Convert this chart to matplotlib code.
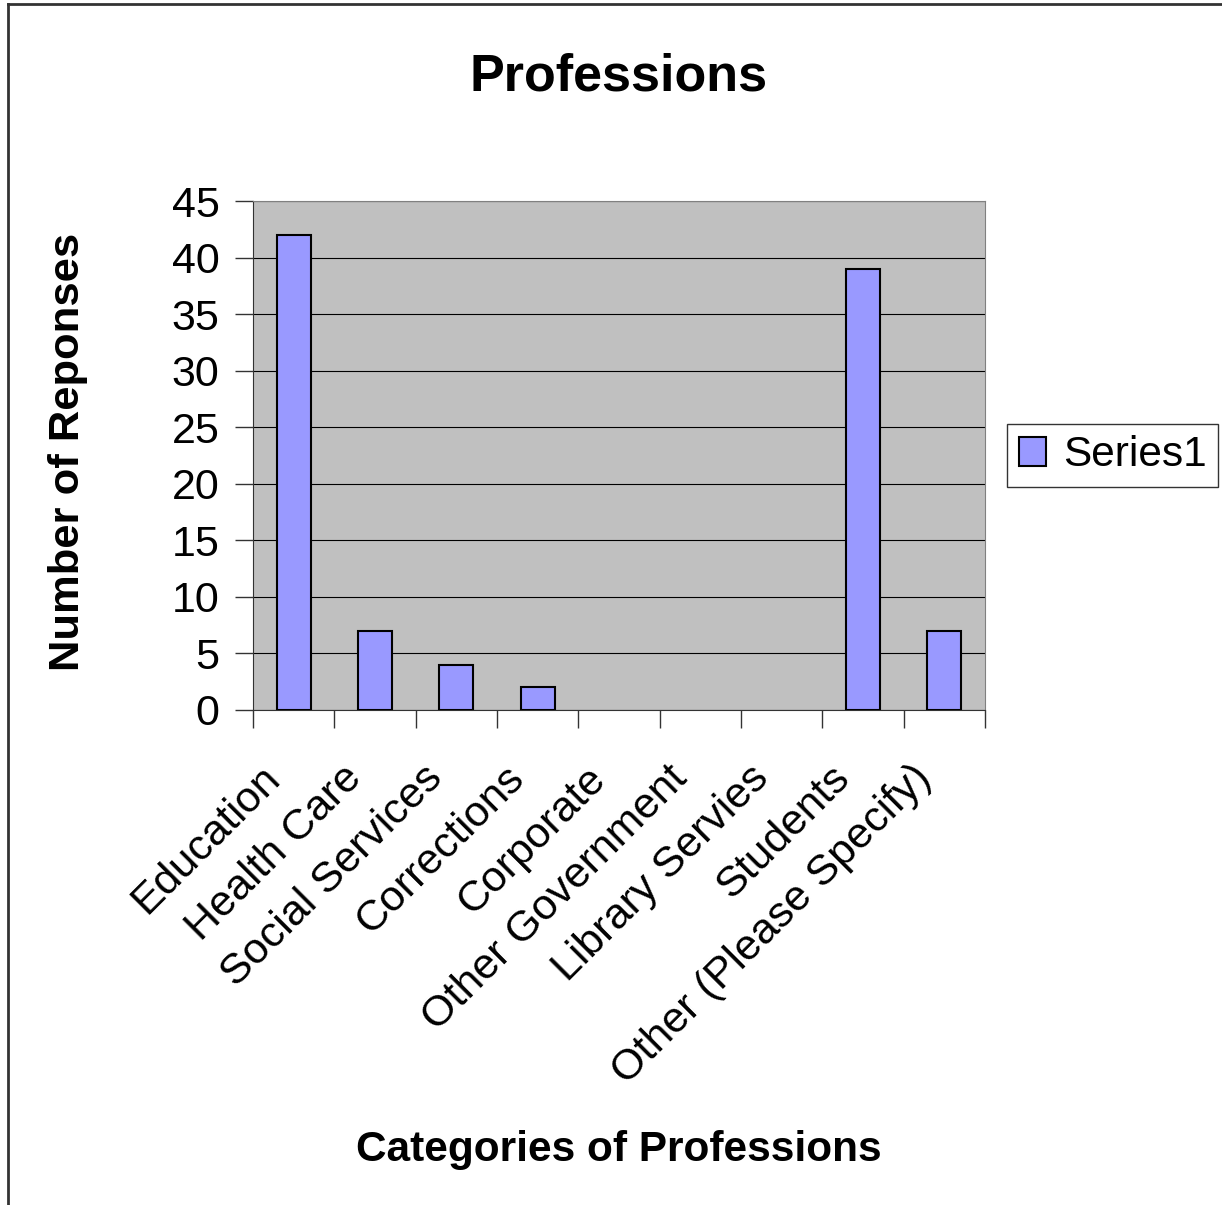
import numpy as np
from matplotlib import pyplot as plt
from matplotlib.lines import Line2D

categories = ['Education', 'Health Care', 'Social Services', 'Corrections',
              'Corporate', 'Other Government', 'Library Servies', 'Students',
              'Other (Please Specify)']
responses = [42, 7, 4, 2, 0, 0, 0, 39, 7]
y_ticks = [0, 5, 10, 15, 20, 25, 30, 35, 40, 45]

plt.rcParams['font.family'] = ['Liberation Sans', 'DejaVu Sans']

fig = plt.figure(figsize=(12.22, 12.05), dpi=100)
ax = fig.add_axes([0.207, 0.411, 0.599, 0.422])

x = np.arange(len(categories))
# empty categories show no outline in the original
edges = ['black' if v > 0 else 'none' for v in responses]
ax.bar(x, responses, width=0.42, color='#9999ff', edgecolor=edges,
       linewidth=1.5, label='Series1', zorder=3)

ax.set_facecolor('#c0c0c0')
ax.set_xlim(-0.5, len(categories) - 0.5)
ax.set_ylim(0, 45)
ax.set_yticks(y_ticks)
ax.yaxis.grid(True, color='black', linewidth=0.8, zorder=1)
ax.tick_params(axis='y', labelsize=31, length=13, width=1, color='#333333', pad=11)

# category ticks sit on the boundaries between bars
ax.set_xticks(np.arange(len(categories) + 1) - 0.5)
ax.set_xticklabels([])
ax.tick_params(axis='x', length=13, width=1, color='#333333')
for i, name in enumerate(categories):
    ax.annotate(name, xy=(i, 0), xycoords=('data', 'axes fraction'),
                xytext=(-14, -45), textcoords='offset points',
                rotation=45, ha='right', va='center', rotation_mode='anchor',
                fontsize=31)

for side in ['top', 'right']:
    ax.spines[side].set_color('#808080')
for side in ['left', 'bottom']:
    ax.spines[side].set_color('#333333')

fig.text(0.506, 0.936, 'Professions', ha='center', va='center',
         fontsize=37.5, fontweight='bold')
fig.text(0.056, 0.625, 'Number of Reponses', ha='center', va='center',
         rotation=90, fontsize=31.3, fontweight='bold')
fig.text(0.506, 0.046, 'Categories of Professions', ha='center', va='center',
         fontsize=30.5, fontweight='bold')

leg = fig.legend(loc='center', bbox_to_anchor=(0.9105, 0.622), fontsize=30.5,
                 frameon=True, fancybox=False, edgecolor='black',
                 handlelength=0.65, handleheight=0.65, handletextpad=0.4,
                 borderpad=0.27, borderaxespad=0)
leg.get_frame().set_linewidth(1)

# chart-area border (only left and top visible)
fig.add_artist(Line2D([0.0066, 0.0066], [0, 0.9967], color='#333333',
                      linewidth=2, transform=fig.transFigure))
fig.add_artist(Line2D([0.0066, 1], [0.9967, 0.9967], color='#333333',
                      linewidth=2, transform=fig.transFigure))

fig.savefig('out.png', dpi=100, facecolor='white')
